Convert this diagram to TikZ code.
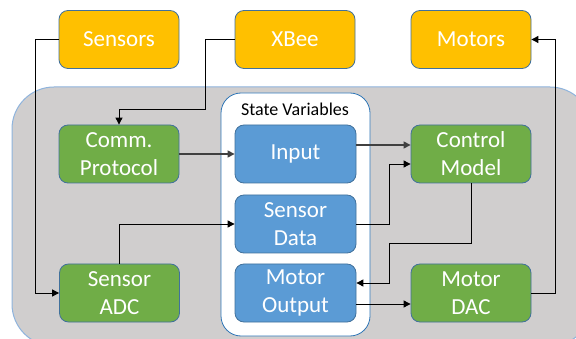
\documentclass[tikz,border=0pt]{standalone}
\usepackage{fontspec}
\setmainfont{Carlito}
\usetikzlibrary{arrows.meta,calc}
\definecolor{orng}{HTML}{FFC000}
\definecolor{grn}{HTML}{70AD47}
\definecolor{blu}{HTML}{5B9BD5}
\definecolor{edge}{HTML}{41719C}
\definecolor{cont}{HTML}{D0CECE}
\definecolor{contedge}{HTML}{8FB4DD}
\definecolor{svedge}{HTML}{2E75B6}
\definecolor{dgray}{HTML}{404040}
\tikzset{
  box/.style={draw=edge, line width=0.8pt, rounded corners=9pt, minimum width=120pt, minimum height=58pt,
    text=white, align=center, inner sep=0pt, font=\fontsize{23}{28}\selectfont},
  obox/.style={box, fill=orng},
  gbox/.style={box, fill=grn},
  bbox/.style={box, fill=blu, minimum width=121pt},
  arr/.style={line width=0.9pt, -{Triangle[length=7pt,width=7pt]}},
  garr/.style={arr, draw=dgray, line width=1.3pt},
}
\begin{document}
\begin{tikzpicture}[x=1pt,y=-1pt]
\path[use as bounding box] (0,0) rectangle (576,339);
\clip (0,0) rectangle (576,339);
\fill[white] (0,0) rectangle (576,339);
% container
\draw[fill=cont, draw=contedge, line width=1pt, rounded corners=42pt] (12,87) rectangle (592,346);
\node[draw=svedge, line width=0.8pt, fill=white, rounded corners=20pt, minimum width=149pt, minimum height=243pt, inner sep=0pt] (sv) at (295.5,214.5) {};
\node[font=\fontsize{18}{20}\selectfont, anchor=center] (svt) at (295,109) {State Variables};
% top row
\node[obox] (sens) at (119,39.5) {Sensors};
\node[obox] (xbee) at (295,39.5) {XBee};
\node[obox] (mot) at (471,39.5) {Motors};
% green
\node[gbox] (comm) at (119,154) {Comm.\\Protocol};
\node[gbox] (ctrl) at (471,154) {Control\\Model};
\node[gbox] (adc) at (119.5,293) {Sensor\\ADC};
\node[gbox] (dac) at (471,293) {Motor\\DAC};
% blue
\node[bbox] (inp) at (295.5,154) {Input};
\node[bbox] (sdat) at (295.5,224) {Sensor\\Data};
\node[bbox] (mout) at (295.5,293) {Motor\\Output};
% connectors
\draw[arr] (sens.west) -- (35,39.5) |- (adc.west);
\draw[arr] (xbee.west) -- (205,39.5) -- (205,109) -| (comm.north);
\draw[garr] (comm.east) -- (inp.west);
\draw[arr] (adc.north) |- (sdat.west);
\draw[garr] ([yshift=9pt]inp.east) -- ([yshift=9pt]ctrl.west);
\draw[arr] (sdat.east) -- (389,224) |- ([yshift=-10pt]ctrl.west);
\draw[arr] (ctrl.south) |- (389,243) |- ([yshift=10pt]mout.east);
\draw[arr] ([yshift=-11pt]mout.east) -- ([yshift=-11pt]dac.west);
\draw[arr] (dac.east) -- (555,293) |- (mot.east);
\end{tikzpicture}
\end{document}
